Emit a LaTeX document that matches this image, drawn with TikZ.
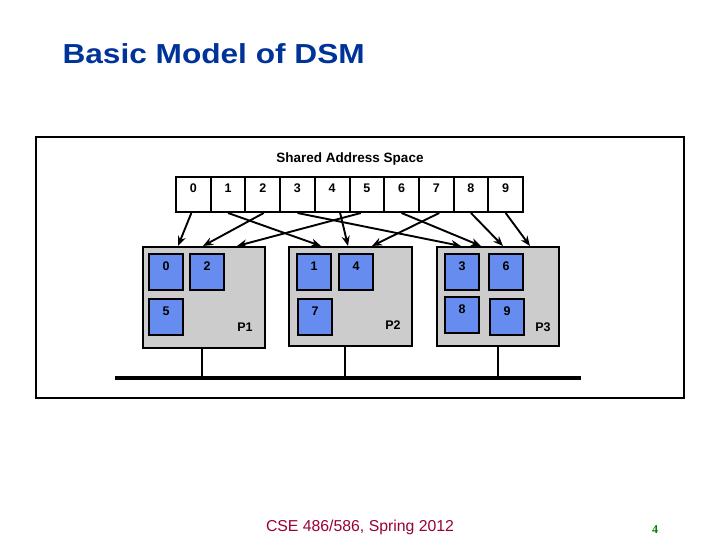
\documentclass[tikz,border=0pt]{standalone}
\usepackage{fontspec}
\setmainfont{Liberation Sans}
\newfontfamily\titlefont[FakeStretch=1.15]{Liberation Sans}
\newfontfamily\pagenumfont{Liberation Serif}
\usetikzlibrary{arrows.meta,positioning}
\definecolor{titleblue}{RGB}{0,51,153}
\definecolor{pageblue}{RGB}{102,140,240}
\definecolor{procgray}{RGB}{204,204,204}
\definecolor{footred}{RGB}{153,0,51}
\definecolor{numgreen}{RGB}{0,128,0}
\tikzset{
  cell/.style={draw,line width=2pt,fill=white,anchor=north west,minimum width=34.7pt,minimum height=35pt,inner sep=0pt,font=\fontsize{12.5}{13}\bfseries,text height=9.5pt,text depth=12.5pt},
  page/.style={draw,line width=2pt,fill=pageblue,anchor=north west,minimum width=34pt,minimum height=36pt,inner sep=0pt,font=\fontsize{12.5}{13}\bfseries,text height=9.5pt,text depth=12.5pt},
  proc/.style={draw,line width=2.2pt,fill=procgray,anchor=north west,inner sep=0pt},
  plabel/.style={font=\fontsize{12.5}{13}\bfseries},
  arr/.style={-{Stealth[length=10pt,width=8pt]},line width=1.9pt}
}
\begin{document}
\begin{tikzpicture}[x=1pt,y=-1pt]
\useasboundingbox (0,0) rectangle (720,540);
\node[anchor=west,text=titleblue,font=\titlefont\fontsize{27.5}{30}\bfseries] (title) at (59,54) {Basic Model of DSM};
% outer frame
\draw[line width=2.6pt] (36,137) rectangle (684,398);
\node[font=\fontsize{13.5}{14}\bfseries] (sas) at (350,159) {Shared Address Space};
% shared address space cells
\foreach \i in {0,...,9} \node[cell] (c\i) at ({175+34.7*\i},176) {\i};
% processors
\node[proc,minimum width=122pt,minimum height=101pt] (p1) at (142,246) {};
\node[proc,minimum width=123pt,minimum height=99pt] (p2) at (288,246) {};
\node[proc,minimum width=122pt,minimum height=99pt] (p3) at (436,246) {};
\node[plabel] (l1) at (245,327) {P1};
\node[plabel] (l2) at (393,325) {P2};
\node[plabel] (l3) at (543,327) {P3};
% local pages
\foreach \n/\x/\y in {0/148/253, 2/189/253, 5/148/298, 1/296/253, 4/338/253, 7/297/298, 3/444/253, 6/488/253, 8/444/296, 9/489/298}
  \node[page] (m\n) at (\x,\y) {\n};
% arrow ends on processor tops
\foreach \t/\p/\dx in {a0/p1/36, a2/p1/61, a5/p1/95, a1/p2/33, a4/p2/60, a7/p2/84, a3/p3/25, a6/p3/45, a8/p3/67, a9/p3/94}
  \coordinate (\t) at ([xshift=\dx]\p.north west);
\foreach \i/\dx in {0/-2, 1/0, 2/1, 3/0, 4/8, 5/-6, 6/0, 7/3, 8/0, 9/0}
  \draw[arr] ([xshift=\dx]c\i.south) -- (a\i);
% bus
\coordinate (busl) at (115,378);
\coordinate (busr) at (581,378);
\draw[line width=3.5pt] (busl) -- (busr);
\draw[line width=1.8pt] ([xshift=-2]p1.south) -- ([xshift=-2]p1.south |- busl);
\draw[line width=1.8pt] ([xshift=-5.5]p2.south) -- ([xshift=-5.5]p2.south |- busl);
\draw[line width=1.8pt] (p3.south) -- (p3.south |- busl);
% footer
\node[text=footred,font=\fontsize{15.8}{17}\selectfont] (foot) at (360,527) {CSE 486/586, Spring 2012};
\node[text=numgreen,font=\pagenumfont\fontsize{12}{14}\bfseries] (pnum) at (655,530) {4};
\end{tikzpicture}
\end{document}
